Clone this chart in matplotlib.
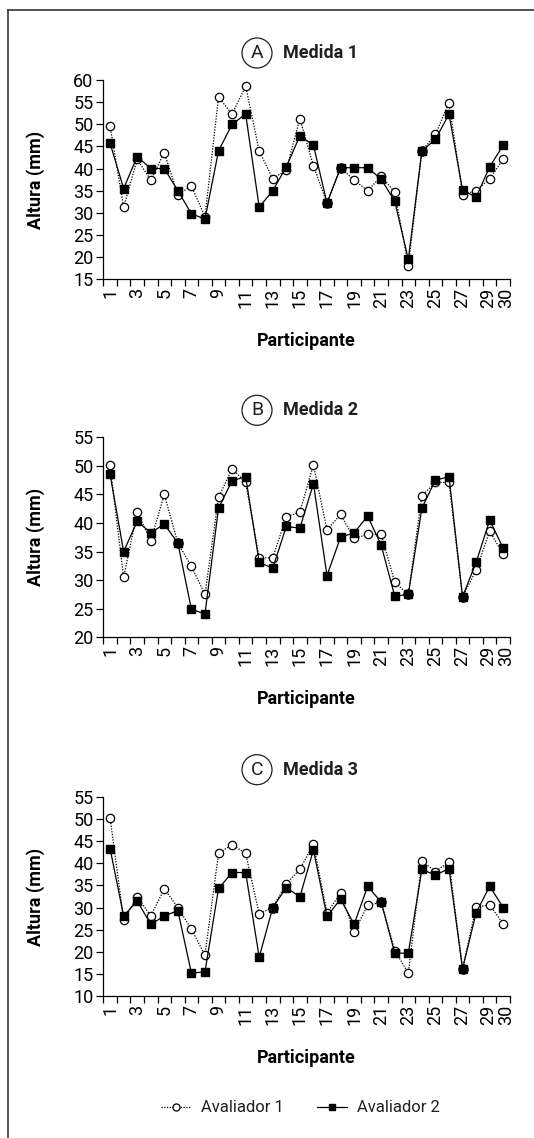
#!/usr/bin/env python3
import numpy as np
import matplotlib
matplotlib.use("Agg")
import matplotlib.pyplot as plt
import matplotlib.transforms as mtransforms
from matplotlib.patches import Ellipse
from matplotlib.lines import Line2D

W, H = 534, 1138

participantes = list(range(1, 31))
tick_labels = [str(i) for i in range(1, 30, 2)] + ["30"]
tick_pos = list(range(1, 30, 2)) + [30]

# Medida 1
m1_aval1 = [49.6, 31.3, 42.1, 37.4, 43.6, 34.1, 36.1, 29.1, 56.1, 52.3,
            58.6, 44.0, 37.7, 39.7, 51.3, 40.6, 32.2, 40.2, 37.4, 35.0,
            38.3, 34.6, 18.1, 44.0, 47.7, 54.9, 34.1, 35.0, 37.7, 42.1]
m1_aval2 = [45.7, 35.5, 42.7, 40.0, 40.0, 35.0, 29.8, 28.6, 44.0, 50.0,
            52.3, 31.3, 35.0, 40.4, 47.4, 45.3, 32.2, 40.2, 40.2, 40.2,
            37.6, 32.6, 19.5, 44.0, 46.6, 52.3, 35.2, 33.5, 40.4, 45.3]

# Medida 2
m2_aval1 = [50.1, 30.5, 41.9, 36.9, 45.0, 36.5, 32.4, 27.5, 44.5, 49.5,
            47.1, 33.9, 33.9, 41.1, 41.9, 50.2, 38.8, 41.5, 37.3, 38.0,
            38.0, 29.6, 27.5, 44.8, 47.1, 47.1, 27.1, 31.7, 38.6, 34.5]
m2_aval2 = [48.5, 35.0, 40.3, 38.3, 39.8, 36.5, 24.9, 24.1, 42.6, 47.4,
            48.1, 33.1, 32.1, 39.4, 39.1, 46.9, 30.8, 37.5, 38.3, 41.2,
            36.1, 27.2, 27.5, 42.6, 47.5, 48.1, 27.1, 33.1, 40.5, 35.6]

# Medida 3
m3_aval1 = [50.3, 27.2, 32.4, 28.1, 34.2, 30.0, 25.1, 19.3, 42.2, 44.2,
            42.2, 28.6, 30.0, 35.4, 38.6, 44.3, 28.8, 33.2, 24.5, 30.5,
            31.2, 20.3, 15.2, 40.5, 38.1, 40.3, 16.2, 30.1, 30.6, 26.3]
m3_aval2 = [43.3, 28.1, 31.5, 26.2, 28.1, 29.3, 15.2, 15.5, 34.3, 37.9,
            37.9, 18.8, 30.0, 34.5, 32.4, 43.0, 28.0, 31.9, 26.2, 34.8,
            31.2, 19.7, 19.7, 38.6, 37.3, 38.8, 16.2, 28.8, 34.8, 30.0]

paineis = [
    ("A", "Medida 1", m1_aval1, m1_aval2, (15, 60), 80.0, 279.3),
    ("B", "Medida 2", m2_aval1, m2_aval2, (20, 55), 437.3, 637.3),
    ("C", "Medida 3", m3_aval1, m3_aval2, (10, 55), 796.7, 996.2),
]

plt.rcParams["font.family"] = ["Roboto", "DejaVu Sans"]
plt.rcParams["text.color"] = "#231f20"

FS = 13


def fx(px):
    return px / W


def fy(py):
    return 1 - py / H


fig = plt.figure(figsize=(W / 100, H / 100), dpi=100)

# moldura (esquerda e topo)
fig.add_artist(Line2D([fx(8), fx(8)], [0, fy(10)], color="#444444", lw=1.3))
fig.add_artist(Line2D([fx(8), 1], [fy(10), fy(10)], color="#444444", lw=1.3))

x = np.array(participantes)
left_px, right_px = 103.3, 510.0

for letra, titulo, a1, a2, ylim, top_px, bot_px in paineis:
    ax = fig.add_axes([fx(left_px), fy(bot_px), fx(right_px - left_px),
                       (bot_px - top_px) / H])
    a1 = np.array(a1)
    a2 = np.array(a2)
    ax.plot(x, a1, linestyle=(0, (1, 1.2)), color="black", lw=0.9,
            marker="o", ms=6, mfc="white", mec="black", mew=0.9,
            label="Avaliador 1", zorder=3)
    ax.plot(x, a2, linestyle="-", color="black", lw=0.9,
            marker="s", ms=5.2, mfc="black", mec="black",
            label="Avaliador 2", zorder=4)
    igual = np.isclose(a1, a2)
    ax.plot(x[igual], a1[igual], linestyle="none", marker="o", ms=6.5,
            mfc="black", mec="black", zorder=5)

    ax.set_xlim(0.5, 30.5)
    ax.set_ylim(*ylim)
    ax.set_yticks(np.arange(ylim[0], ylim[1] + 1, 5))
    ax.set_xticks(tick_pos)
    ax.set_xticklabels(tick_labels, rotation=90)
    ax.set_xticks(np.arange(0.5, 31, 1), minor=True)
    ax.tick_params(axis="x", which="major", length=0, pad=6, labelsize=FS)
    ax.tick_params(axis="x", which="minor", length=5, width=0.9)
    ax.tick_params(axis="y", length=5, width=0.9, pad=2, labelsize=FS)
    for s in ["top", "right"]:
        ax.spines[s].set_visible(False)
    for s in ["left", "bottom"]:
        ax.spines[s].set_linewidth(0.9)

    # afasta um pouco os rótulos 29 e 30, que ficam colados
    lbls = ax.get_xticklabels()
    for lbl, dx in [(lbls[-2], -1.5), (lbls[-1], 2.5)]:
        lbl.set_transform(lbl.get_transform() + mtransforms.ScaledTranslation(
            dx / 100, 0, fig.dpi_scale_trans))

    alt = bot_px - top_px
    ax.set_ylabel("Altura (mm)", fontsize=FS, fontweight="bold")
    ax.yaxis.set_label_coords((45 - left_px) / (right_px - left_px), 0.5)
    ax.set_xlabel("Participante", fontsize=FS, fontweight="bold")
    ax.xaxis.set_label_coords(0.5, -(332 - 279.3) / alt)

    cy = top_px - 27
    fig.add_artist(Ellipse((fx(257), fy(cy)), 30 / W, 30 / H,
                           facecolor="none", edgecolor="#231f20", lw=0.9))
    fig.text(fx(257), fy(cy), letra, fontsize=FS + 1, ha="center",
             va="center")
    fig.text(fx(283), fy(cy), titulo, fontsize=FS, fontweight="bold",
             ha="left", va="center")

handles, labels = ax.get_legend_handles_labels()
fig.legend(handles, labels, loc="center", bbox_to_anchor=(fx(300), fy(1108)),
           ncol=2, frameon=False, fontsize=12, handlelength=1.8,
           handletextpad=0.6, columnspacing=2.0, markerscale=0.85)

fig.savefig("out.png", dpi=100)
plt.close(fig)
